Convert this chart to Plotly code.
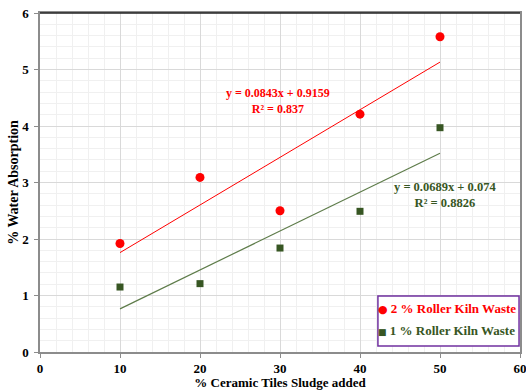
import plotly.graph_objects as go

sludge = [10, 20, 30, 40, 50]
wa_2pct = [1.92, 3.09, 2.50, 4.21, 5.58]
wa_1pct = [1.15, 1.21, 1.84, 2.49, 3.97]
slope_2, icpt_2 = 0.0843, 0.9159
slope_1, icpt_1 = 0.0689, 0.074
name_2 = "2 % Roller Kiln Waste"
name_1 = "1 % Roller Kiln Waste"
eq_2 = "y = 0.0843x + 0.9159<br>R² = 0.837"
eq_1 = "y = 0.0689x + 0.074<br>R² = 0.8826"

RED = "#FF0000"
GREEN = "#375623"
GREEN_LINE = "#5E7C4A"
FONT = "Liberation Serif"

fit_x = [sludge[0], sludge[-1]]
fit_2 = [slope_2 * x + icpt_2 for x in fit_x]
fit_1 = [slope_1 * x + icpt_1 for x in fit_x]

fig = go.Figure()
fig.add_trace(go.Scatter(x=fit_x, y=fit_2, mode="lines", line=dict(color=RED, width=1),
                         showlegend=False, hoverinfo="skip"))
fig.add_trace(go.Scatter(x=fit_x, y=fit_1, mode="lines", line=dict(color=GREEN_LINE, width=1.2),
                         showlegend=False, hoverinfo="skip"))
fig.add_trace(go.Scatter(x=sludge, y=wa_2pct, mode="markers",
                         marker=dict(color=RED, size=9, symbol="circle"),
                         name=name_2, showlegend=False))
fig.add_trace(go.Scatter(x=sludge, y=wa_1pct, mode="markers",
                         marker=dict(color=GREEN, size=7, symbol="square"),
                         name=name_1, showlegend=False))

fig.add_annotation(x=29.7, y=4.45, text=f"<b>{eq_2}</b>", showarrow=False,
                   font=dict(family=FONT, size=12, color=RED), align="center")
fig.add_annotation(x=50.6, y=2.78, text=f"<b>{eq_1}</b>", showarrow=False,
                   font=dict(family=FONT, size=12.5, color=GREEN), align="center")

# frame top line
fig.add_shape(type="line", xref="paper", yref="paper", x0=0, x1=1, y0=1, y1=1,
              line=dict(color="#222222", width=1.5))

# custom legend box
fig.add_shape(type="rect", xref="paper", yref="paper", x0=0.704, x1=0.998, y0=0.018, y1=0.165,
              line=dict(color="#7030A0", width=1.5), fillcolor="white", layer="above")
fig.add_annotation(xref="paper", yref="paper", x=0.701, y=0.127, xanchor="left", yanchor="middle",
                   text=f'<span style="font-family:DejaVu Sans;font-size:11px">●</span> <b>{name_2}</b>',
                   showarrow=False, font=dict(family=FONT, size=13, color=RED))
fig.add_annotation(xref="paper", yref="paper", x=0.701, y=0.062, xanchor="left", yanchor="middle",
                   text=f'<span style="font-family:DejaVu Sans;font-size:9px">■</span> <b>{name_1}</b>',
                   showarrow=False, font=dict(family=FONT, size=13, color=GREEN))

axis_common = dict(showline=True, linecolor="#8c8c8c", linewidth=1.5, mirror=True,
                   ticks="outside", ticklen=4, tickcolor="#8c8c8c", automargin=False,
                   ticklabeloverflow="allow",
                   showgrid=True, gridcolor="#d9d9d9", gridwidth=1, zeroline=False,
                   tickfont=dict(family=FONT, size=13, color="black"))

fig.update_layout(
    width=526, height=390,
    margin=dict(l=40, r=6, t=13, b=38),
    paper_bgcolor="white", plot_bgcolor="white",
    font=dict(family=FONT, size=12, color="black"),
    showlegend=False,
    xaxis=dict(range=[0, 60], dtick=10,
               minor=dict(dtick=2, showgrid=True, gridcolor="#f0f0f0"),
               title=dict(text="<b>% Ceramic Tiles Sludge added</b>", standoff=1,
                          font=dict(family=FONT, size=13)),
               **axis_common),
    yaxis=dict(range=[0, 6], dtick=1, ticklabelstandoff=3,
               minor=dict(dtick=0.2, showgrid=True, gridcolor="#f0f0f0"),
               title=dict(text="<b>% Water Absorption</b>", standoff=0,
                          font=dict(family=FONT, size=14)),
               **axis_common),
)
fig.update_xaxes(tickprefix="<b>", ticksuffix="</b>")
fig.update_yaxes(tickprefix="<b>", ticksuffix="</b>")

fig.write_html("out.html", config={"displayModeBar": False},
               post_script="document.body.style.margin='0';document.body.style.overflow='hidden';")
